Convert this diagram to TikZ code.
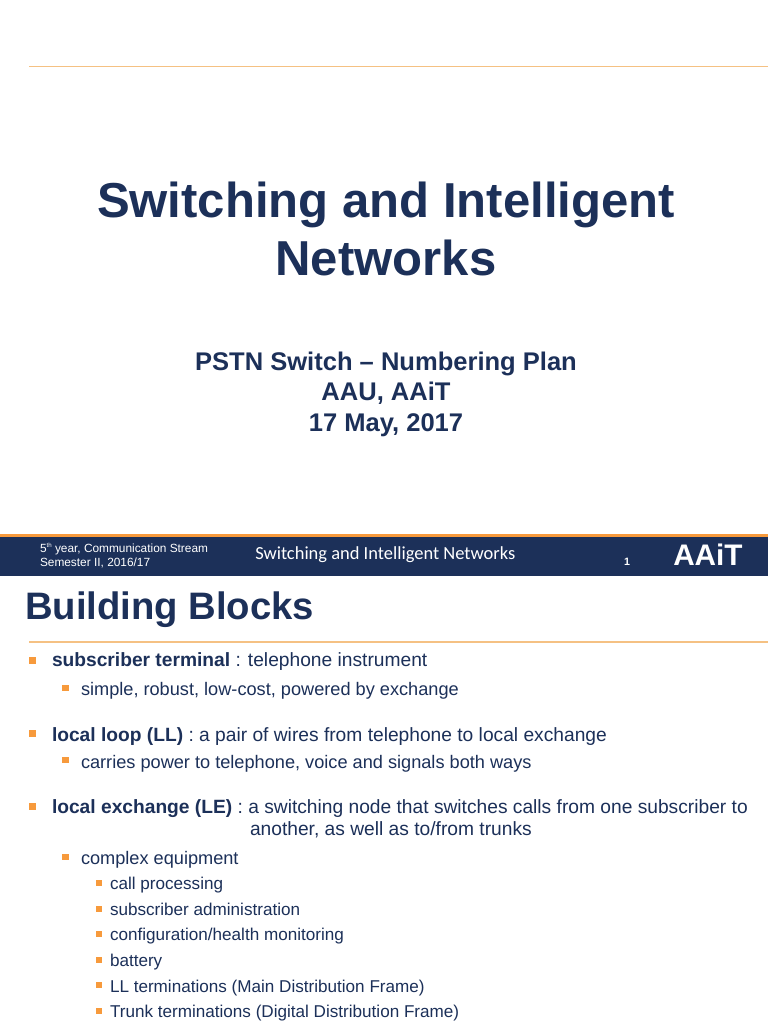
\documentclass[tikz,border=0pt]{standalone}
\usepackage{fontspec}
\setmainfont{Liberation Sans}
\newfontfamily\carl{Carlito}
\definecolor{navy}{HTML}{1C3059}
\definecolor{orangeb}{HTML}{F79A3C}
\definecolor{ruleo}{HTML}{F5C183}
\tikzset{
  txt/.style={anchor=base west,inner sep=0pt,outer sep=0pt,text=navy},
  ctr/.style={anchor=base,inner sep=0pt,outer sep=0pt,text=navy},
  ttl/.style={ctr,font=\bfseries\fontsize{36.8}{40}\selectfont},
  subt/.style={ctr,font=\bfseries\fontsize{19.15}{22}\selectfont},
  head/.style={txt,font=\bfseries\fontsize{28.7}{30}\selectfont},
  la/.style={txt,font=\fontsize{14.4}{17}\selectfont},
  lb/.style={txt,font=\fontsize{13.63}{16}\selectfont},
  lc/.style={txt,font=\fontsize{12.83}{15}\selectfont},
  foot/.style={anchor=base west,inner sep=0pt,outer sep=0pt,text=white,font=\fontsize{8.9}{10}\selectfont},
  bu/.style={fill=orangeb,draw=none},
}
\newcommand{\bula}[1]{\fill[bu] (28.5,#1-3.5) rectangle ++(7,7);}
\newcommand{\bulb}[1]{\fill[bu] (62,#1-3.5) rectangle ++(6.5,6.5);}
\newcommand{\bulc}[1]{\fill[bu] (96,#1-3) rectangle ++(5.5,5.5);}
\begin{document}
\begin{tikzpicture}[x=0.75pt,y=-0.75pt]
\useasboundingbox (0,0) rectangle (768,1024);
\fill[white] (0,0) rectangle (768,1024);
\coordinate (r1a) at (29,66.5); \coordinate (r1b) at (768,66.5);
\draw[ruleo,line width=0.8pt] (r1a) -- (r1b);
\node[ttl] (t1) at (386,217.5) {Switching and Intelligent};
\node[ttl] (t2) at (386,275.5) {Networks};
\node[subt] (s1) at (386,370.5) {PSTN Switch – Numbering Plan};
\node[subt] (s2) at (386,400.5) {AAU, AAiT};
\node[subt] (s3) at (386,431.5) {17 May, 2017};
\fill[navy] (0,537) rectangle (768,575.5);
\fill[orangeb] (0,533.5) rectangle (768,537);
\node[foot] (f1) at (40,552) {5\raisebox{0.35em}{\fontsize{4.6}{5}\selectfont th} year, Communication Stream};
\node[foot] (f2) at (40,566) {Semester II, 2016/17};
\node[anchor=base west,inner sep=0pt,text=white,font=\carl\fontsize{13.85}{15}\selectfont] (f3) at (255,559.5) {Switching and Intelligent Networks};
\node[foot,font=\bfseries\fontsize{8}{10}\selectfont] (f4) at (624,565) {1};
\node[anchor=base west,inner sep=0pt,text=white,font=\bfseries\fontsize{22.3}{24}\selectfont] (f5) at (673,565) {AAiT};
\node[head] (h) at (25,619) {Building Blocks};
\coordinate (r2a) at (29,642); \coordinate (r2b) at (768,642);
\draw[ruleo,line width=0.9pt] (r2a) -- (r2b);
\bula{660}
\node[la] (a1) at (52,666.5) {\textbf{subscriber terminal} : telephone instrument};
\bulb{688}
\node[lb] (b1) at (81,695) {simple, robust, low-cost, powered by exchange};
\bula{733}
\node[la] (a2) at (52,741) {\textbf{local loop (LL)} : a pair of wires from telephone to local exchange};
\bulb{760}
\node[lb] (b2) at (81,768) {carries power to telephone, voice and signals both ways};
\bula{806}
\node[la] (a3) at (52,813) {\textbf{local exchange (LE)} : a switching node that switches calls from one subscriber to};
\node[la] (a3b) at (250,835.5) {another, as well as to/from trunks};
\bulb{857}
\node[lb] (b3) at (81,864) {complex equipment};
\bulc{883}
\node[lc] (c1) at (110,889.5) {call processing};
\bulc{909}
\node[lc] (c2) at (110,915.5) {subscriber administration};
\bulc{934}
\node[lc] (c3) at (110,940.5) {configuration/health monitoring};
\bulc{960}
\node[lc] (c4) at (110,966) {battery};
\bulc{985}
\node[lc] (c5) at (110,992) {LL terminations (Main Distribution Frame)};
\bulc{1011}
\node[lc] (c6) at (110,1017.5) {Trunk terminations (Digital Distribution Frame)};
\end{tikzpicture}
\end{document}
